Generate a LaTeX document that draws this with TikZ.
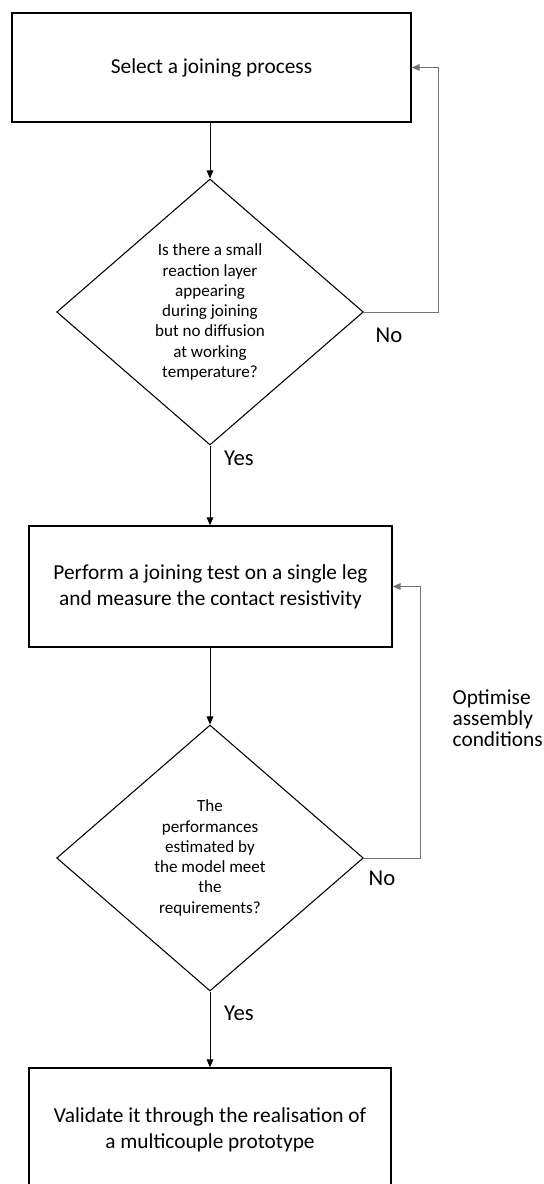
\documentclass[tikz,border=0pt]{standalone}
\usepackage{fontspec}
\setmainfont{Carlito}
\usetikzlibrary{shapes.geometric,arrows.meta}

\tikzset{
    stepbox/.style={draw, line width=1pt, inner sep=0pt, align=center,
        font=\fontsize{16}{19.5}\selectfont},
    decision/.style={draw, diamond, line width=0.8pt, inner sep=0pt, align=center,
        minimum width=230pt, minimum height=199.5pt,
        font=\fontsize{12.8}{15.2}\selectfont},
    answer/.style={font=\fontsize{17}{20}\selectfont},
    flow/.style={-{Triangle[length=6pt,width=5pt]}, line width=0.75pt},
    loopback/.style={flow, draw=black!55}
}

\begin{document}
\begin{tikzpicture}[x=0.75pt, y=-0.75pt]

    % Page frame
    \useasboundingbox (0,0) rectangle (543,1184);
    \clip (0,0) rectangle (543,1184);

    % Process boxes and decisions
    \node[stepbox, minimum width=299.25pt, minimum height=81.75pt] (select) at (211.5,67.5) {Select a joining process};
    \node[decision] (layer) at (210,312) {Is there a small\\reaction layer\\appearing\\during joining\\but no diffusion\\at working\\temperature?};
    \node[stepbox, minimum width=272.25pt, minimum height=90.75pt] (test) at (210.5,586.5) {Perform a joining test on a single leg\\and measure the contact resistivity};
    \node[decision] (model) at (210,858) {The\\performances\\estimated by\\the model meet\\the\\requirements?};
    \node[stepbox, minimum width=271.5pt, minimum height=93pt] (validate) at (210,1130) {Validate it through the realisation of\\a multicouple prototype};

    % Main flow
    \draw[flow] (select.south -| layer.north) -- (layer.north);
    \draw[flow] (layer.south) -- (test.north -| layer.south);
    \draw[flow] (test.south -| model.north) -- (model.north);
    \draw[flow] (model.south) -- (validate.north -| model.south);

    % Loops back
    \draw[loopback] (layer.east) -- ++(74.5,0) |- (select.east);
    \draw[loopback] (model.east) -- ++(56.5,0) |- (test.east);

    % Answers
    \node[answer] (no1) at (389,335) {No};
    \node[answer] (yes1) at (239,458) {Yes};
    \node[answer] (no2) at (382,878) {No};
    \node[answer] (yes2) at (239,1013) {Yes};
    \node[stepbox, draw=none, align=left, anchor=west, font=\fontsize{16}{15.75}\selectfont] (optimise) at (452,718) {Optimise\\assembly\\conditions};

\end{tikzpicture}
\end{document}
